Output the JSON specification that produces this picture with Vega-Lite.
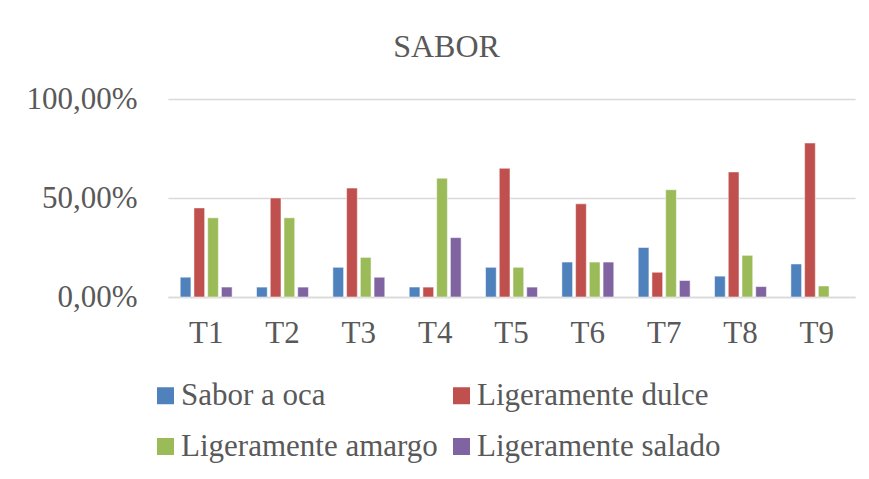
{
  "$schema": "https://vega.github.io/schema/vega-lite/v6.json",
  "width": 687,
  "height": 198,
  "autosize": {"type": "none"},
  "padding": {"left": 168, "top": 99, "right": 14, "bottom": 182},
  "background": "white",
  "title": {
    "text": "SABOR",
    "font": "Liberation Serif",
    "fontSize": 32,
    "fontWeight": "normal",
    "color": "#595959",
    "anchor": "middle",
    "dx": -65,
    "offset": 19
  },
  "data": {
    "values": [
      {"t": "T1", "cat": "Sabor a oca", "v": 0.10},
      {"t": "T1", "cat": "Ligeramente dulce", "v": 0.45},
      {"t": "T1", "cat": "Ligeramente amargo", "v": 0.40},
      {"t": "T1", "cat": "Ligeramente salado", "v": 0.05},
      {"t": "T2", "cat": "Sabor a oca", "v": 0.05},
      {"t": "T2", "cat": "Ligeramente dulce", "v": 0.50},
      {"t": "T2", "cat": "Ligeramente amargo", "v": 0.40},
      {"t": "T2", "cat": "Ligeramente salado", "v": 0.05},
      {"t": "T3", "cat": "Sabor a oca", "v": 0.15},
      {"t": "T3", "cat": "Ligeramente dulce", "v": 0.55},
      {"t": "T3", "cat": "Ligeramente amargo", "v": 0.20},
      {"t": "T3", "cat": "Ligeramente salado", "v": 0.10},
      {"t": "T4", "cat": "Sabor a oca", "v": 0.05},
      {"t": "T4", "cat": "Ligeramente dulce", "v": 0.05},
      {"t": "T4", "cat": "Ligeramente amargo", "v": 0.60},
      {"t": "T4", "cat": "Ligeramente salado", "v": 0.30},
      {"t": "T5", "cat": "Sabor a oca", "v": 0.15},
      {"t": "T5", "cat": "Ligeramente dulce", "v": 0.65},
      {"t": "T5", "cat": "Ligeramente amargo", "v": 0.15},
      {"t": "T5", "cat": "Ligeramente salado", "v": 0.05},
      {"t": "T6", "cat": "Sabor a oca", "v": 0.1765},
      {"t": "T6", "cat": "Ligeramente dulce", "v": 0.4706},
      {"t": "T6", "cat": "Ligeramente amargo", "v": 0.1765},
      {"t": "T6", "cat": "Ligeramente salado", "v": 0.1765},
      {"t": "T7", "cat": "Sabor a oca", "v": 0.25},
      {"t": "T7", "cat": "Ligeramente dulce", "v": 0.125},
      {"t": "T7", "cat": "Ligeramente amargo", "v": 0.5417},
      {"t": "T7", "cat": "Ligeramente salado", "v": 0.0833},
      {"t": "T8", "cat": "Sabor a oca", "v": 0.1053},
      {"t": "T8", "cat": "Ligeramente dulce", "v": 0.6316},
      {"t": "T8", "cat": "Ligeramente amargo", "v": 0.2105},
      {"t": "T8", "cat": "Ligeramente salado", "v": 0.0526},
      {"t": "T9", "cat": "Sabor a oca", "v": 0.1667},
      {"t": "T9", "cat": "Ligeramente dulce", "v": 0.7778},
      {"t": "T9", "cat": "Ligeramente amargo", "v": 0.0556}
    ]
  },
  "mark": {"type": "bar", "stroke": "white", "strokeOpacity": 0.5, "strokeWidth": 1},
  "encoding": {
    "x": {
      "field": "t",
      "type": "nominal",
      "scale": {"paddingInner": 0.32, "paddingOuter": 0.16},
      "axis": {
        "title": null,
        "labelAngle": 0,
        "labelFont": "Liberation Serif",
        "labelFontSize": 31,
        "labelColor": "#595959",
        "labelPadding": 21,
        "ticks": false,
        "domain": true,
        "domainColor": "#D9D9D9",
        "domainWidth": 1.5
      }
    },
    "xOffset": {
      "field": "cat",
      "type": "nominal",
      "sort": ["Sabor a oca", "Ligeramente dulce", "Ligeramente amargo", "Ligeramente salado"],
      "scale": {"paddingInner": 0.22, "paddingOuter": 0}
    },
    "y": {
      "field": "v",
      "type": "quantitative",
      "scale": {"domain": [0, 1]},
      "axis": {
        "title": null,
        "values": [0, 0.5, 1],
        "labelExpr": "replace(format(datum.value, '.2%'), '.', ',')",
        "labelFont": "Liberation Serif",
        "labelFontSize": 31,
        "labelColor": "#595959",
        "labelPadding": 31,
        "ticks": false,
        "domain": false,
        "gridColor": "#D9D9D9",
        "gridWidth": 1.5
      }
    },
    "color": {
      "field": "cat",
      "type": "nominal",
      "sort": ["Sabor a oca", "Ligeramente dulce", "Ligeramente amargo", "Ligeramente salado"],
      "scale": {
        "domain": ["Sabor a oca", "Ligeramente dulce", "Ligeramente amargo", "Ligeramente salado"],
        "range": ["#4F81BD", "#C0504D", "#9BBB59", "#8064A2"]
      },
      "legend": {
        "title": null,
        "orient": "none",
        "legendX": -18,
        "legendY": 281,
        "padding": 0,
        "direction": "horizontal",
        "columns": 2,
        "columnPadding": 8,
        "rowPadding": 19,
        "symbolType": "square",
        "symbolSize": 289,
        "symbolStrokeWidth": 0,
        "symbolOpacity": 1,
        "labelFont": "Liberation Serif",
        "labelFontSize": 31,
        "labelColor": "#595959",
        "labelOffset": 0,
        "labelLimit": 400
      }
    }
  },
  "config": {
    "view": {"stroke": null}
  }
}
